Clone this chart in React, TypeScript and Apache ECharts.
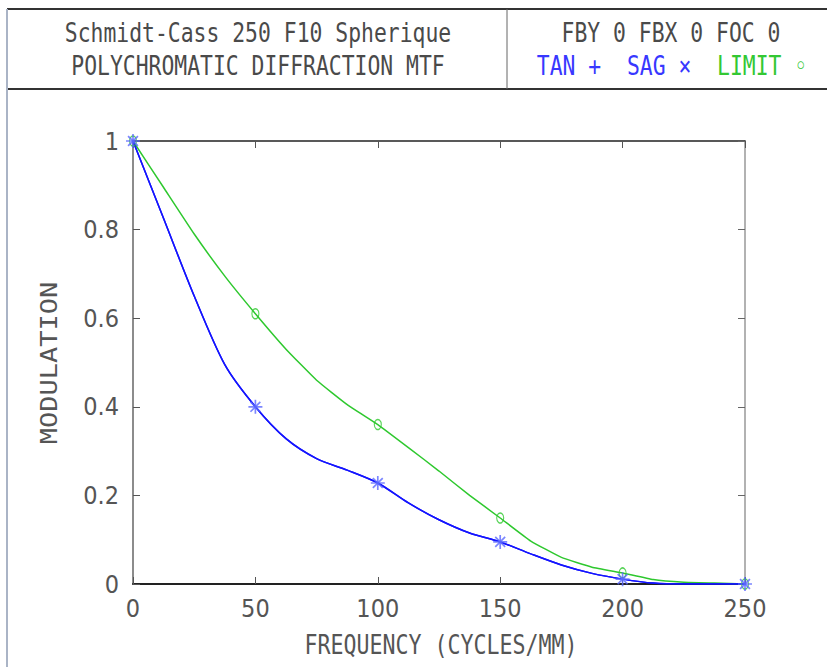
import React, { useEffect, useRef } from "react";
import * as echarts from "echarts";

// Spatial frequency samples (cycles/mm)
const freq = [0, 12.5, 25, 37.5, 50, 62.5, 75, 87.5, 100, 112.5, 125, 137.5, 150, 162.5, 175, 187.5, 200, 212.5, 225, 237.5, 250];
// Tangential MTF
const tan = [1.0, 0.825, 0.65, 0.495, 0.4, 0.328, 0.283, 0.257, 0.228, 0.183, 0.145, 0.115, 0.095, 0.068, 0.043, 0.024, 0.011, 0.002, 0.0, 0.0, 0.0];
// Sagittal MTF
const sag = [1.0, 0.825, 0.65, 0.495, 0.4, 0.328, 0.283, 0.257, 0.228, 0.183, 0.145, 0.115, 0.095, 0.068, 0.043, 0.024, 0.011, 0.002, 0.0, 0.0, 0.0];
// Diffraction limit
const limit = [1.0, 0.895, 0.79, 0.695, 0.61, 0.53, 0.46, 0.405, 0.36, 0.308, 0.255, 0.2, 0.149, 0.097, 0.06, 0.038, 0.025, 0.01, 0.004, 0.002, 0.0];

const markerStep = 50;

const titleLine1 = "Schmidt-Cass 250 F10 Spherique";
const titleLine2 = "POLYCHROMATIC DIFFRACTION MTF";
const fieldLine = "FBY 0 FBX 0 FOC 0";
const xName = "FREQUENCY (CYCLES/MM)";
const yName = "MODULATION";

const BLUE = "#1414ff";
const BLUE_MARK = "#5a68ff";
const GREEN = "#2ec82e";
const TEXT = "#4a4a4a";
const MONO = "'DejaVu Sans Mono', 'Liberation Mono', monospace";
const NARROW = "'Liberation Sans Narrow', 'DejaVu Sans Condensed', sans-serif";

const pairs = (vals: number[]) => freq.map((f, i) => [f, vals[i]]);
const marks = (vals: number[]) => freq.map((f, i) => [f, vals[i]]).filter((p) => p[0] % markerStep === 0);

const PLUS = "path://M4.4,0H5.6V10H4.4Z M0,4.4H10V5.6H0Z";

export default function App() {
  const ref = useRef<HTMLDivElement>(null);
  useEffect(() => {
    const chart = echarts.init(ref.current!, null, { renderer: "svg" });
    const labelStyle = { color: "#555", fontFamily: NARROW, fontSize: 25 };
    chart.setOption({
      animation: false,
      backgroundColor: "#fff",
      grid: { left: 133, right: 82, top: 141, bottom: 83 },
      xAxis: [
        {
          type: "value", min: 0, max: 250, interval: 50, position: "bottom",
          axisLine: { onZero: false, lineStyle: { color: "#222", width: 2 } },
          axisTick: { inside: true, length: 7, lineStyle: { color: "#555" } },
          axisLabel: { ...labelStyle, margin: 12 },
          splitLine: { show: false },
        },
        {
          type: "value", min: 0, max: 250, interval: 50, position: "top",
          axisLine: { onZero: false, lineStyle: { color: "#222", width: 1.5 } },
          axisTick: { inside: true, length: 7, lineStyle: { color: "#555" } },
          axisLabel: { show: false },
          splitLine: { show: false },
        },
      ],
      yAxis: [
        {
          type: "value", min: 0, max: 1, interval: 0.2, position: "left",
          axisLine: { show: true, onZero: false, lineStyle: { color: "#666", width: 1.5 } },
          axisTick: { show: true, inside: true, length: 7, lineStyle: { color: "#555" } },
          axisLabel: { ...labelStyle, margin: 14 },
          splitLine: { show: false },
        },
        {
          type: "value", min: 0, max: 1, interval: 0.2, position: "right",
          axisLine: { show: true, onZero: false, lineStyle: { color: "#999", width: 1.5 } },
          axisTick: { show: true, inside: true, length: 7, lineStyle: { color: "#666" } },
          axisLabel: { show: false },
          splitLine: { show: false },
        },
      ],
      series: [
        { name: "LIMIT", type: "line", data: pairs(limit), showSymbol: false, smooth: 0.12, lineStyle: { color: GREEN, width: 1.5 }, z: 2 },
        { name: "SAG", type: "line", data: pairs(sag), showSymbol: false, smooth: 0.28, lineStyle: { color: BLUE, width: 1.5 }, z: 3 },
        { name: "TAN", type: "line", data: pairs(tan), showSymbol: false, smooth: 0.28, lineStyle: { color: BLUE, width: 1.5 }, z: 3 },
        {
          name: "LIMIT marks", type: "scatter", data: marks(limit), symbol: "circle", symbolSize: [7, 10],
          itemStyle: { color: "rgba(0,0,0,0)", borderColor: GREEN, borderWidth: 1.3 }, z: 4,
        },
        {
          name: "TAN marks", type: "scatter", data: marks(tan), symbol: PLUS, symbolSize: 14,
          itemStyle: { color: BLUE_MARK }, z: 5,
        },
        {
          name: "SAG marks", type: "scatter", data: marks(sag), symbol: PLUS, symbolSize: 14, symbolRotate: 45,
          itemStyle: { color: BLUE_MARK }, z: 5,
        },
      ],
      graphic: [
        { type: "line", shape: { x1: 7, y1: 9, x2: 827, y2: 9 }, style: { stroke: "#333", lineWidth: 2 } },
        { type: "line", shape: { x1: 7, y1: 89, x2: 827, y2: 89 }, style: { stroke: "#333", lineWidth: 2 } },
        { type: "line", shape: { x1: 7, y1: 9, x2: 7, y2: 667 }, style: { stroke: "#aab4c6", lineWidth: 2 } },
        { type: "line", shape: { x1: 507, y1: 9, x2: 507, y2: 89 }, style: { stroke: "#666", lineWidth: 1 } },
        {
          type: "text", x: 258, y: 33, scaleY: 1.22,
          style: { text: titleLine1, font: `21.4px ${MONO}`, fill: TEXT, align: "center", verticalAlign: "middle" },
        },
        {
          type: "text", x: 258, y: 66, scaleY: 1.22,
          style: { text: titleLine2, font: `21.4px ${MONO}`, fill: TEXT, align: "center", verticalAlign: "middle" },
        },
        {
          type: "text", x: 671, y: 33, scaleY: 1.22,
          style: { text: fieldLine, font: `21.4px ${MONO}`, fill: TEXT, align: "center", verticalAlign: "middle" },
        },
        {
          type: "text", x: 672, y: 66, scaleY: 1.22,
          style: {
            text: "{b|TAN +  SAG ×  }{g|LIMIT ◦}",
            font: `21.4px ${MONO}`, align: "center", verticalAlign: "middle",
            rich: {
              b: { fill: "#3838ff", font: `21.4px ${MONO}` },
              g: { fill: "#33c833", font: `21.4px ${MONO}` },
            },
          },
        },
        {
          type: "text", x: 441, y: 645, scaleY: 1.25,
          style: { text: xName, font: `21.6px ${MONO}`, fill: "#555", align: "center", verticalAlign: "middle" },
        },
        {
          type: "text", x: 49, y: 363, rotation: Math.PI / 2, scaleX: 1.25, scaleY: 1.1,
          style: { text: yName, font: `21.6px ${MONO}`, fill: "#555", align: "center", verticalAlign: "middle" },
        },
      ],
    });
    return () => chart.dispose();
  }, []);
  return <div ref={ref} style={{ position: "fixed", left: 0, top: 0, width: 827, height: 667, background: "#fff" }} />;
}
